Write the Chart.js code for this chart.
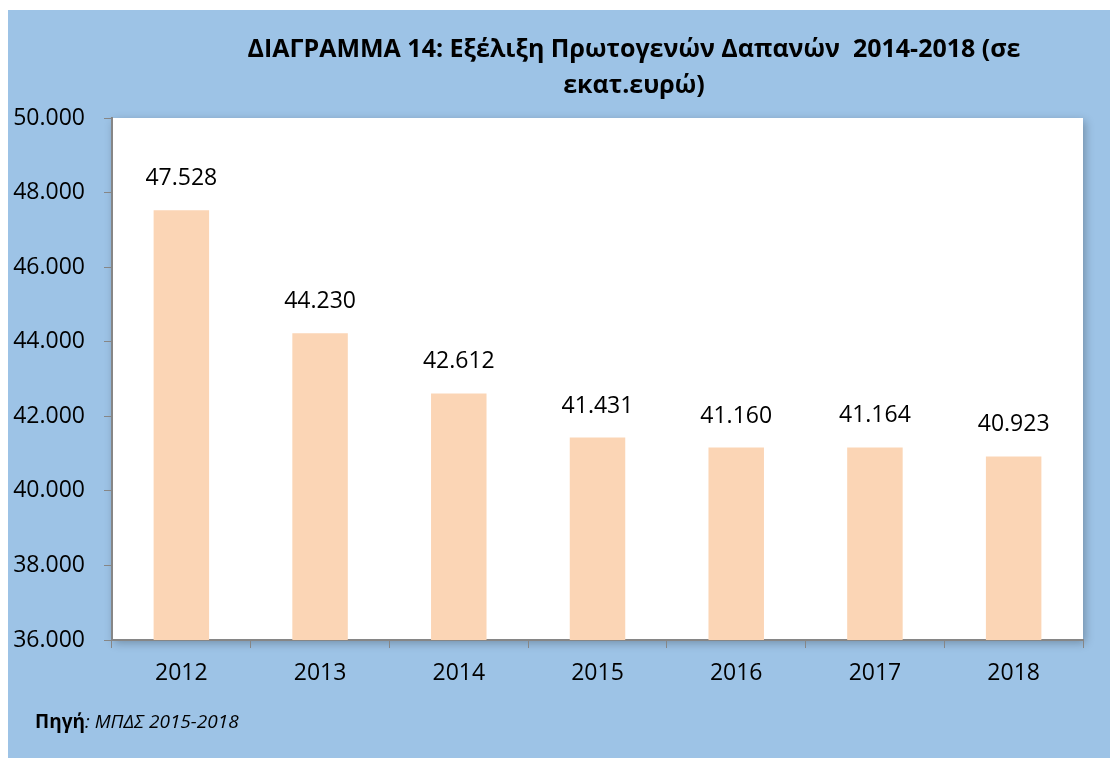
<!DOCTYPE html>
<html>
<head>
<meta charset="utf-8">
<script src="https://cdn.jsdelivr.net/npm/chart.js@4.4.1/dist/chart.umd.min.js"></script>
<style>
html,body{margin:0;padding:0;background:#fff;}
#wrap{position:relative;width:1110px;height:758px;}
</style>
</head>
<body>
<div id="wrap"><canvas id="c" width="1110" height="758"></canvas></div>
<script>
const categories = ['2012','2013','2014','2015','2016','2017','2018'];
const values = [47528, 44230, 42612, 41431, 41160, 41164, 40923];
const yTicks = [36000, 38000, 40000, 42000, 44000, 46000, 48000, 50000];
const titleLines = ['ΔΙΑΓΡΑΜΜΑ 14: Εξέλιξη Πρωτογενών Δαπανών  2014-2018 (σε', 'εκατ.ευρώ)'];
const sourceBold = 'Πηγή';
const sourceItalic = ': ΜΠΔΣ 2015-2018';

const FONT = "'Open Sans', 'DejaVu Sans', sans-serif";
const fmt = v => v.toLocaleString('de-DE');

const bgPlugin = {
  id: 'bg',
  beforeDraw(chart) {
    const {ctx, chartArea: a} = chart;
    ctx.save();
    ctx.fillStyle = '#ffffff';
    ctx.fillRect(0, 0, chart.width, chart.height);
    ctx.fillStyle = '#9DC3E6';
    ctx.fillRect(8, 10, chart.width - 8, chart.height - 10);
    ctx.shadowColor = 'rgba(0,0,0,0.28)';
    ctx.shadowBlur = 9;
    ctx.shadowOffsetX = 2;
    ctx.shadowOffsetY = 3;
    ctx.fillStyle = '#ffffff';
    ctx.fillRect(a.left, a.top, a.right - a.left, a.bottom - a.top);
    ctx.restore();
  },
  afterDraw(chart) {
    const {ctx} = chart;
    ctx.save();
    ctx.fillStyle = '#000';
    ctx.textAlign = 'center';
    ctx.textBaseline = 'middle';
    ctx.font = "bold 25px " + FONT;
    ctx.fillText(titleLines[0], 634, 50);
    ctx.fillText(titleLines[1], 634, 86);
    // source
    ctx.textAlign = 'left';
    ctx.font = "bold 19px " + FONT;
    ctx.fillText(sourceBold, 35, 723);
    const w = ctx.measureText(sourceBold).width;
    ctx.font = "italic 19px " + FONT;
    ctx.fillText(sourceItalic, 35 + w, 723);
    // data labels
    const meta = chart.getDatasetMeta(0);
    ctx.textAlign = 'center';
    ctx.textBaseline = 'alphabetic';
    ctx.font = "23px " + FONT;
    meta.data.forEach((bar, i) => {
      ctx.fillText(fmt(values[i]), bar.x, bar.y - 25);
    });
    ctx.restore();
  }
};

new Chart(document.getElementById('c'), {
  type: 'bar',
  data: {
    labels: categories,
    datasets: [{
      data: values,
      backgroundColor: '#FBD5B5',
      borderWidth: 0,
      barPercentage: 0.4,
      categoryPercentage: 1.0
    }]
  },
  options: {
    responsive: false,
    animation: false,
    devicePixelRatio: 1,
    layout: { padding: { left: 0, right: 27, top: 118, bottom: 0 } },
    plugins: { legend: { display: false }, title: { display: false }, tooltip: { enabled: false } },
    scales: {
      x: {
        offset: true,
        grid: { display: true, drawOnChartArea: false, drawTicks: true, tickLength: 8, color: '#868686', offset: true },
        border: { display: true, color: '#868686', width: 2 },
        ticks: { color: '#000', font: { family: FONT, size: 23 }, padding: 12, maxRotation: 0 },
        afterFit(s) { s.height = 118; }
      },
      y: {
        min: 36000, max: 50000,
        afterBuildTicks(s) { s.ticks = yTicks.map(v => ({ value: v })); },
        grid: { display: true, drawOnChartArea: false, drawTicks: true, tickLength: 8, color: '#868686' },
        border: { display: true, color: '#868686', width: 2 },
        ticks: { color: '#000', font: { family: FONT, size: 23 }, padding: 19, callback: v => fmt(v) },
        afterFit(s) { s.width = 112; }
      }
    }
  },
  plugins: [bgPlugin]
});
</script>
</body>
</html>
